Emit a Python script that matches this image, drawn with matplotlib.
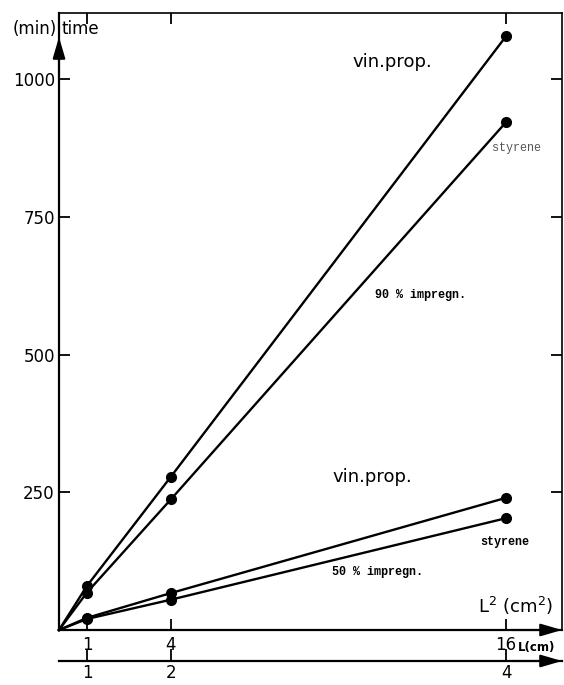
# Drying time vs. sample size, 90 % and 50 % impregnation
import matplotlib
matplotlib.use('Agg')
import matplotlib.pyplot as plt

W, H = 564, 685

# data: x is L^2 (cm^2), y is time (min)
l2_vals = [0, 1, 4, 16]
vinprop_90 = [0, 80, 278, 1078]
styrene_90 = [0, 68, 237, 922]
vinprop_50 = [0, 22, 67, 240]
styrene_50 = [0, 20, 55, 203]

l2_ticks = [1, 4, 16]
l2_ticklabels = ['1', '4', '16']
l_ticklabels = ['1', '2', '4']
time_ticks = [250, 500, 750, 1000]

# axes box in pixels
x0, x1 = 59, 562
y_bot, y_top = 630, 13
y_sec = 661

fig = plt.figure(figsize=(W / 100, H / 100), dpi=100, facecolor='w')
ax = fig.add_axes([x0 / W, (H - y_bot) / H, (x1 - x0) / W, (y_bot - y_top) / H])
ax.set_xlim(0, 18)
ax.set_ylim(0, 1120)

for s in ['left', 'bottom']:
    ax.spines[s].set_linewidth(1.6)
for s in ['top', 'right']:
    ax.spines[s].set_linewidth(1.2)

ax.set_yticks(time_ticks)
ax.set_yticklabels([str(t) for t in time_ticks])
ax.set_xticks(l2_ticks)
ax.set_xticklabels(l2_ticklabels)
ax.tick_params(axis='both', direction='in', length=8, width=1.3, labelsize=12,
               top=True, right=True, pad=4)
ax.tick_params(axis='y', pad=3)

for yv in [vinprop_90, styrene_90, vinprop_50, styrene_50]:
    ax.plot(l2_vals, yv, color='k', lw=1.7, clip_on=False)
    ax.plot(l2_vals[1:], yv[1:], 'o', color='k', ms=7, clip_on=False)

# second scale: L (cm)
sec_pos = -(y_sec - y_bot) / (y_bot - y_top)
sec = ax.secondary_xaxis(sec_pos)
sec.set_xticks(l2_ticks)
sec.set_xticklabels(l_ticklabels)
sec.spines['bottom'].set_linewidth(1.6)
sec.tick_params(direction='in', length=9, width=1.3, labelsize=12, pad=2)

# axis arrows
arr = dict(arrowstyle='-|>,head_length=1.3,head_width=0.38', color='k', lw=1.5,
           mutation_scale=10, shrinkA=0, shrinkB=0)
ax.annotate('', xy=(0, 1.0 - 24 / 617), xytext=(0, 0.9), xycoords='axes fraction',
            arrowprops=arr)
ax.annotate('', xy=(1.0, 0), xytext=(0.9, 0), xycoords='axes fraction', arrowprops=arr)
ax.annotate('', xy=(1.0, sec_pos), xytext=(0.9, sec_pos),
            xycoords='axes fraction', arrowprops=arr, annotation_clip=False)


def px(x, y):
    return x / W, 1 - y / H


fig.text(*px(57, 29), '(min)', ha='right', va='center', fontsize=12)
fig.text(*px(61, 29), 'time', ha='left', va='center', fontsize=12)
fig.text(*px(352, 62), 'vin.prop.', ha='left', va='center', fontsize=13)
fig.text(*px(332, 477), 'vin.prop.', ha='left', va='center', fontsize=13)

mono = 'Liberation Mono'
fig.text(*px(492, 148), 'styrene', ha='left', va='center', fontsize=8.5,
         family=mono, color='#555555')
fig.text(*px(480, 542), 'styrene', ha='left', va='center', fontsize=8.5,
         family=mono, weight='bold')
fig.text(*px(375, 295), '90 % impregn.', ha='left', va='center', fontsize=8.5,
         family=mono, weight='bold')
fig.text(*px(332, 572), '50 % impregn.', ha='left', va='center', fontsize=8.5,
         family=mono, weight='bold')

fig.text(*px(478, 606), 'L$^2$ (cm$^2$)', ha='left', va='center', fontsize=13)
fig.text(*px(518, 648), 'L(cm)', ha='left', va='center', fontsize=8.5, weight='bold')

fig.savefig('out.png', dpi=100)
plt.close(fig)
